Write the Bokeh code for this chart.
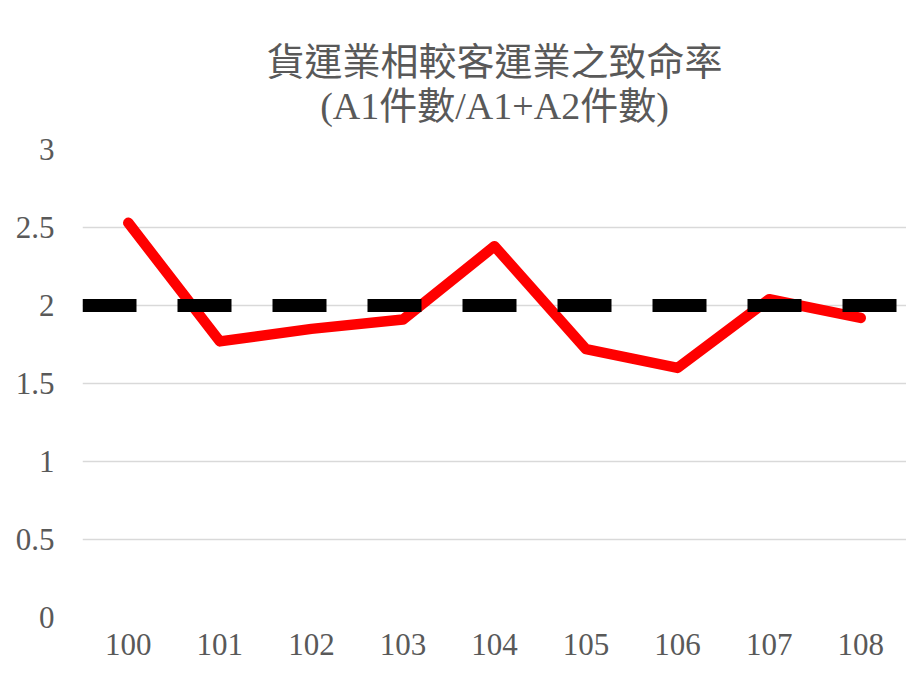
from bokeh.plotting import figure
from bokeh.models import Range1d, FixedTicker, Title, NumeralTickFormatter, ColumnDataSource
from bokeh.embed import file_html
from bokeh.resources import INLINE

# ---- data ----
years = [100, 101, 102, 103, 104, 105, 106, 107, 108]
year_labels = ["100", "101", "102", "103", "104", "105", "106", "107", "108"]
ratio = [2.53, 1.77, 1.85, 1.91, 2.38, 1.72, 1.60, 2.04, 1.92]
baseline = 2
y_ticks = [0, 0.5, 1, 1.5, 2, 2.5, 3]
title_line1 = "貨運業相較客運業之致命率"
title_line2 = "(A1件數/A1+A2件數)"

FONT = "'Liberation Serif', 'Times New Roman', 'Noto Sans CJK TC', serif"
GRAY = "#595959"

x_start = years[0] - 0.5
x_end = years[-1] + 0.5

p = figure(width=906, height=663, output_backend="svg", toolbar_location=None,
           x_range=Range1d(x_start, x_end), y_range=Range1d(0, 3),
           min_border_left=82, min_border_right=0, min_border_bottom=46,
           min_border_top=0)

# outermost spacer
p.title.text = " "
p.title.text_font_size = "10px"
p.title.standoff = 25

spacer_near = Title(text=" ", text_font_size="10px", standoff=10)
t2 = Title(text=title_line2, align="center", text_font=FONT, text_font_size="38px",
           text_font_style="normal", text_color=GRAY, standoff=0)
t1 = Title(text=title_line1, align="center", text_font=FONT, text_font_size="38px",
           text_font_style="normal", text_color=GRAY, standoff=0)
p.add_layout(spacer_near, "above")
p.add_layout(t2, "above")
p.add_layout(t1, "above")

p.outline_line_color = None
p.background_fill_color = "white"
p.border_fill_color = "white"

# grid
p.xgrid.grid_line_color = None
p.ygrid.grid_line_color = "#D9D9D9"
p.ygrid.grid_line_width = 1.5
p.ygrid.ticker = FixedTicker(ticks=y_ticks)

# axes
p.yaxis.ticker = FixedTicker(ticks=y_ticks)
p.yaxis.formatter = NumeralTickFormatter(format="0.[0]")
p.xaxis.ticker = FixedTicker(ticks=years)
p.xaxis.major_label_overrides = {y: l for y, l in zip(years, year_labels)}
for ax in (p.xaxis, p.yaxis):
    ax.axis_line_color = None
    ax.major_tick_line_color = None
    ax.minor_tick_line_color = None
    ax.major_tick_out = 0
    ax.major_tick_in = 0
    ax.major_label_text_font = FONT
    ax.major_label_text_font_size = "31px"
    ax.major_label_text_color = GRAY
p.yaxis.major_label_standoff = 28
p.xaxis.major_label_standoff = 16
p.xaxis.major_label_text_line_height = 0.6

src = ColumnDataSource(dict(x=years, y=ratio))
p.line("x", "y", source=src, line_color="#FF0000", line_width=10.5,
       line_join="round", line_cap="round")

p.line([x_start, x_end], [baseline, baseline], line_color="black", line_width=13,
       line_dash="54 41", line_cap="butt")

open("out.html", "w").write(file_html(p, INLINE))
